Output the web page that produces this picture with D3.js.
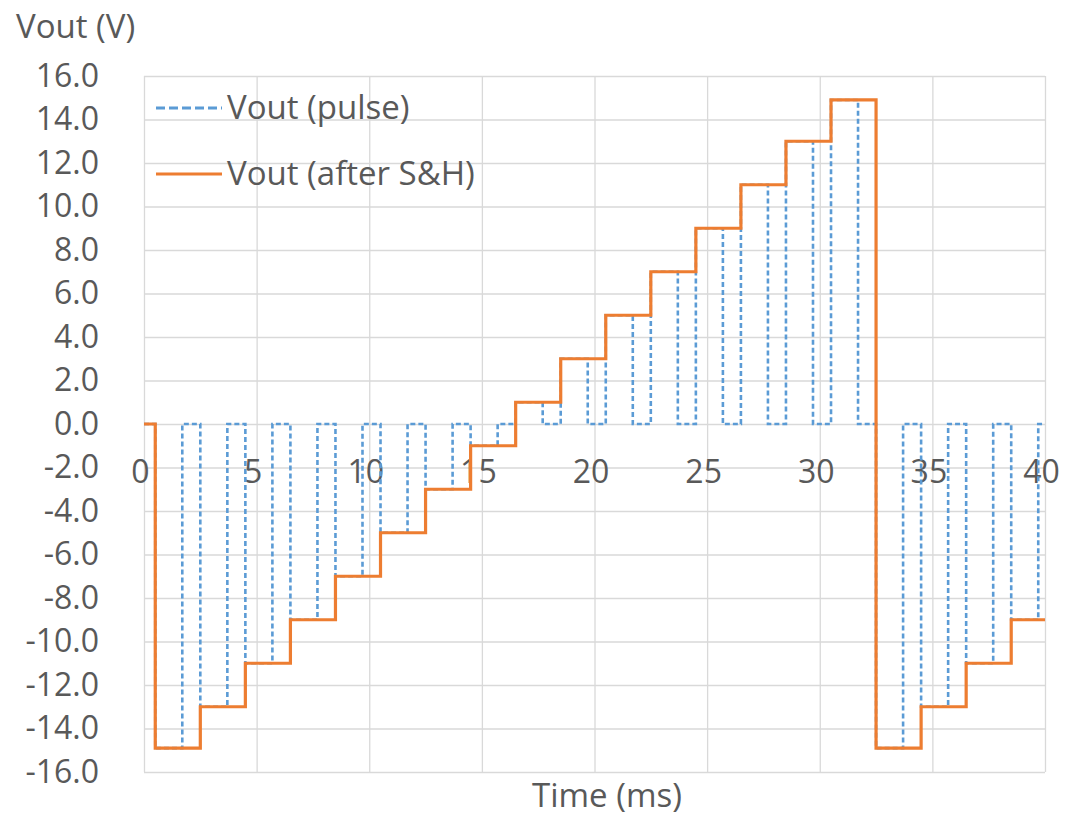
<!DOCTYPE html>
<html>
<head>
<meta charset="utf-8">
<script src="https://cdn.jsdelivr.net/npm/d3@7"></script>
<style>
  body { margin: 0; background: #ffffff; }
  text { font-family: "Open Sans", "Noto Sans", sans-serif; fill: #595959; }
</style>
</head>
<body>
<div id="view"></div>
<script>
var width = 1069, height = 816;

// pulse signal: step points (time in ms, value in V)
var pulseTimes = [0, 0.5, 1.7, 2.5, 3.7, 4.5, 5.7, 6.5, 7.7, 8.5, 9.7, 10.5, 11.7, 12.5, 13.7,
	14.5, 15.7, 16.5, 17.7, 18.5, 19.7, 20.5, 21.7, 22.5, 23.7, 24.5, 25.7, 26.5, 27.7,
	28.5, 29.7, 30.5, 31.7, 32.5, 33.7, 34.5, 35.7, 36.5, 37.7, 38.5, 39.7, 40];
var pulseValues = [0, -14.9, 0, -13, 0, -11, 0, -9, 0, -7, 0, -5, 0, -3, 0,
	-1, 0, 1, 0, 3, 0, 5, 0, 7, 0, 9, 0, 11, 0,
	13, 0, 14.9, 0, -14.9, 0, -13, 0, -11, 0, -9, 0, 0];

// sample & hold output
var shTimes = [0, 0.5, 2.5, 4.5, 6.5, 8.5, 10.5, 12.5, 14.5, 16.5, 18.5, 20.5, 22.5,
	24.5, 26.5, 28.5, 30.5, 32.5, 34.5, 36.5, 38.5, 40];
var shValues = [0, -14.9, -13, -11, -9, -7, -5, -3, -1, 1, 3, 5, 7,
	9, 11, 13, 14.9, -14.9, -13, -11, -9, -9];

var xTicks = [0, 5, 10, 15, 20, 25, 30, 35, 40];
var yTicks = [-16, -14, -12, -10, -8, -6, -4, -2, 0, 2, 4, 6, 8, 10, 12, 14, 16];
var seriesNames = ["Vout (pulse)", "Vout (after S&H)"];

// plot box (window.top is taken, so prefixed names)
var plotLeft = 144, plotRight = 1045, plotTop = 76, plotBottom = 772;

var x = d3.scaleLinear().domain([0, 40]).range([plotLeft, plotRight]);
var y = d3.scaleLinear().domain([-16, 16]).range([plotBottom, plotTop]);

var svg = d3.select("#view").append("svg")
	.attr("width", width)
	.attr("height", height);

// grid
svg.append("g").selectAll("line")
	.data(yTicks).enter().append("line")
	.attr("x1", plotLeft).attr("x2", plotRight)
	.attr("y1", function(d) { return y(d) + 0.5; })
	.attr("y2", function(d) { return y(d) + 0.5; })
	.style("stroke", "#d9d9d9").style("stroke-width", "1.3px");
svg.append("g").selectAll("line")
	.data(xTicks).enter().append("line")
	.attr("y1", plotTop).attr("y2", plotBottom)
	.attr("x1", function(d) { return x(d) + 0.5; })
	.attr("x2", function(d) { return x(d) + 0.5; })
	.style("stroke", "#d9d9d9").style("stroke-width", "1.3px");

// y labels
var yAxis = svg.append("g")
	.attr("transform", "translate(" + plotLeft + ",0)")
	.call(d3.axisLeft(y).tickValues(yTicks).tickSize(0).tickPadding(45)
		.tickFormat(function(d) { return d.toFixed(1); }));
yAxis.select(".domain").remove();
yAxis.selectAll("text").style("font-size", "32px").style("fill", "#595959")
	.style("font-family", "'Open Sans', sans-serif");

// x labels, sitting under the zero line
var xAxis = svg.append("g")
	.attr("transform", "translate(0," + y(0) + ")")
	.call(d3.axisBottom(x).tickValues(xTicks).tickSize(0)
		.tickFormat(function(d) { return d; }));
xAxis.select(".domain").remove();
xAxis.selectAll("text")
	.attr("y", 59).attr("dy", null).attr("dx", -4)
	.style("font-size", "32px").style("fill", "#595959")
	.style("font-family", "'Open Sans', sans-serif");

// series
var line = d3.line()
	.x(function(d) { return x(d[0]); })
	.y(function(d) { return y(d[1]); })
	.curve(d3.curveStepAfter);

var pulseData = pulseTimes.map(function(t, i) { return [t, pulseValues[i]]; });
var shData = shTimes.map(function(t, i) { return [t, shValues[i]]; });

svg.append("path")
	.datum(pulseData)
	.attr("d", line)
	.style("fill", "none")
	.style("stroke", "#5b9bd5")
	.style("stroke-width", "2.6px")
	.style("stroke-dasharray", "5,3");

svg.append("path")
	.datum(shData)
	.attr("d", line)
	.style("fill", "none")
	.style("stroke", "#ed7d31")
	.style("stroke-width", "3.2px")
	.style("stroke-linejoin", "miter");

// legend
var legend = svg.append("g");
legend.append("line")
	.attr("x1", 156).attr("x2", 222).attr("y1", 108).attr("y2", 108)
	.style("stroke", "#5b9bd5").style("stroke-width", "2.8px")
	.style("stroke-dasharray", "9,4");
legend.append("line")
	.attr("x1", 156).attr("x2", 222).attr("y1", 174).attr("y2", 174)
	.style("stroke", "#ed7d31").style("stroke-width", "3.2px");
legend.selectAll("text")
	.data(seriesNames).enter().append("text")
	.attr("x", 227)
	.attr("y", function(d, i) { return 119 + i * 66; })
	.style("font-size", "33px")
	.text(function(d) { return d; });

// axis titles
svg.append("text")
	.attr("x", 16).attr("y", 38)
	.style("font-size", "33px")
	.text("Vout (V)");
svg.append("text")
	.attr("x", 607).attr("y", 807)
	.attr("text-anchor", "middle")
	.style("font-size", "33px")
	.text("Time (ms)");
</script>
</body>
</html>
